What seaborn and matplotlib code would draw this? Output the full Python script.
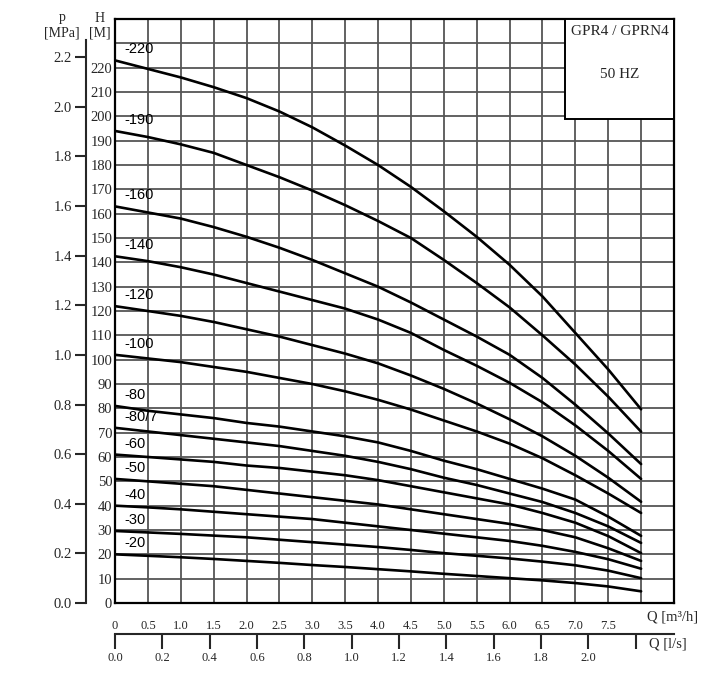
import matplotlib
matplotlib.use('Agg')
import matplotlib.pyplot as plt
import seaborn as sns
import pandas as pd
from matplotlib.patches import Rectangle

sns.set_theme(style='white')
plt.rcParams['font.family'] = ['Liberation Serif', 'DejaVu Serif']

# flow points, m3/h
q_m3h = [0.0, 0.5, 1.0, 1.5, 2.0, 2.5, 3.0, 3.5, 4.0, 4.5, 5.0, 5.5, 6.0, 6.5, 7.0, 7.5, 8.0]

# head (m) for each pump model
h_220 = [223, 219.5, 216, 212, 207.5, 202, 195.5, 188, 180, 171, 161, 150.5, 139, 126, 111, 96, 79.6]
h_190 = [194, 191.5, 188.5, 185, 180, 175, 169.5, 163.5, 157, 150, 141, 131.5, 121.5, 110, 98, 84.8, 70.4]
h_160 = [163, 160.5, 158, 154.5, 150.5, 146, 141, 135.5, 130, 123.5, 116.5, 109.5, 102, 92.5, 81.5, 69.7, 57.1]
h_140 = [142.5, 140.5, 138, 135, 131.5, 128, 124.5, 121, 116.5, 111, 104, 97.5, 90.5, 82.5, 73, 62.5, 51]
h_120 = [122, 120, 118, 115.5, 112.5, 109.5, 106, 102.5, 98.5, 93.5, 88, 82, 75.5, 68.5, 60.5, 51.5, 41.6]
h_100 = [102, 100.5, 99, 97, 95, 92.5, 90, 87, 83.5, 79.5, 75, 70.5, 65.5, 59.5, 52.5, 45, 37]
h_80 = [81, 79, 77.5, 76, 74, 72.5, 70.5, 68.5, 66, 62.5, 58.5, 55, 51, 47, 42.5, 35.5, 27.6]
h_80_7 = [72, 70.5, 69, 67.5, 66, 64.5, 62.5, 60.5, 58, 55, 51.5, 48.5, 45, 41.5, 37, 31.5, 24.7]
h_60 = [61, 60, 59, 58, 56.5, 55.5, 54, 52.5, 50.5, 48, 45.5, 43, 40.5, 37, 33, 27.5, 20.5]
h_50 = [51, 50, 49, 48, 46.5, 45, 43.5, 42, 40.5, 38.5, 36.5, 34.5, 32.5, 30, 27, 22.5, 17.3]
h_40 = [40, 39.3, 38.5, 37.5, 36.5, 35.5, 34.5, 33, 31.5, 30, 28.5, 27, 25.5, 23.5, 21, 18, 14.1]
h_30 = [29.6, 29, 28.4, 27.7, 27, 26, 25, 24, 23, 21.8, 20.5, 19.4, 18.3, 17, 15.5, 13.3, 10.2]
h_20 = [20, 19.4, 18.8, 18.1, 17.3, 16.5, 15.6, 14.8, 13.9, 13, 12, 11.1, 10.2, 9.3, 8.2, 6.8, 4.8]

modele = ['-220', '-190', '-160', '-140', '-120', '-100', '-80', '-80/7', '-60', '-50', '-40', '-30', '-20']
curbe = [h_220, h_190, h_160, h_140, h_120, h_100, h_80, h_80_7, h_60, h_50, h_40, h_30, h_20]

q_ticks = [0, 0.5, 1.0, 1.5, 2.0, 2.5, 3.0, 3.5, 4.0, 4.5, 5.0, 5.5, 6.0, 6.5, 7.0, 7.5]
q_labels = ['0', '0.5', '1.0', '1.5', '2.0', '2.5', '3.0', '3.5', '4.0', '4.5', '5.0', '5.5', '6.0', '6.5', '7.0', '7.5']
h_ticks = list(range(0, 230, 10))
p_ticks = [0.0, 0.2, 0.4, 0.6, 0.8, 1.0, 1.2, 1.4, 1.6, 1.8, 2.0, 2.2]
ls_ticks = [0.0, 0.2, 0.4, 0.6, 0.8, 1.0, 1.2, 1.4, 1.6, 1.8, 2.0, 2.2]
ls_labels = ['0.0', '0.2', '0.4', '0.6', '0.8', '1.0', '1.2', '1.4', '1.6', '1.8', '2.0', '']

df = pd.concat([pd.DataFrame({'Q': q_m3h, 'H': h, 'model': m}) for m, h in zip(modele, curbe)])

fig = plt.figure(figsize=(7.09, 6.77), dpi=100)
ax = fig.add_axes([0.1622, 0.1093, 0.7884, 0.8626])

sns.lineplot(data=df, x='Q', y='H', hue='model', palette={m: 'black' for m in modele},
             legend=False, linewidth=1.9, ax=ax, zorder=2)

ax.set_xlim(0, 8.5)
ax.set_ylim(0, 240)
ax.set_xticks([i * 0.5 for i in range(17)], minor=True)
ax.set_yticks(list(range(0, 240, 10)), minor=True)
ax.set_xticks(q_ticks)
ax.set_xticklabels(q_labels, fontsize=9)
ax.set_yticks(h_ticks)
ax.set_yticklabels([str(h) for h in h_ticks], fontsize=10.5)
ax.grid(True, which='both', color='#555555', linewidth=1.3)
ax.set_axisbelow(True)
ax.tick_params(axis='x', length=0, pad=12)
ax.tick_params(axis='y', length=0, pad=2)
ax.tick_params(which='minor', length=0)
ax.set_xlabel('')
ax.set_ylabel('')
for s in ax.spines.values():
    s.set_color('black')
    s.set_linewidth(1.6)

# curve labels just above the start of each curve
for m, h in zip(modele, curbe):
    ax.text(0.15, h[0] + 4.5, m, fontsize=10.5, family=['Liberation Sans', 'DejaVu Sans'],
            va='center', ha='left', color='black', zorder=4)

# title box in the corner
ax.add_patch(Rectangle((6.85, 199), 1.65, 41, facecolor='white', edgecolor='black',
                       linewidth=1.4, zorder=3))
ax.text(7.68, 235, 'GPR4 / GPRN4', fontsize=11, ha='center', va='center', zorder=4)
ax.text(7.68, 217, '50 HZ', fontsize=11, ha='center', va='center', zorder=4)

# pressure axis
pax = ax.secondary_yaxis(-0.052, functions=(lambda h: h / 101.97, lambda p: p * 101.97))
pax.set_yticks(p_ticks)
pax.set_yticklabels([f'{p:.1f}' for p in p_ticks], fontsize=10.5)
pax.tick_params(length=8, width=1.5, direction='out', pad=2)
pax.spines['left'].set_linewidth(1.5)
pax.spines['left'].set_bounds(0, 2.27)

# flow in l/s
lax = ax.secondary_xaxis(-0.053, functions=(lambda q: q / 3.6, lambda l: l * 3.6))
lax.set_xticks(ls_ticks)
lax.set_xticklabels(ls_labels, fontsize=9)
lax.tick_params(length=11, width=1.5, direction='out', pad=2)
lax.spines['bottom'].set_linewidth(1.5)

fig.text(62 / 709, 1 - 18 / 677, 'p', fontsize=10, ha='center', va='center')
fig.text(62 / 709, 1 - 33 / 677, '[MPa]', fontsize=10, ha='center', va='center')
fig.text(100 / 709, 1 - 18 / 677, 'H', fontsize=10, ha='center', va='center')
fig.text(100 / 709, 1 - 33 / 677, '[M]', fontsize=10, ha='center', va='center')
fig.text(647 / 709, 1 - 617 / 677, 'Q [m³/h]', fontsize=10.5, ha='left', va='center')
fig.text(649 / 709, 1 - 644 / 677, 'Q [l/s]', fontsize=10.5, ha='left', va='center')

fig.savefig('out.png', dpi=100)
